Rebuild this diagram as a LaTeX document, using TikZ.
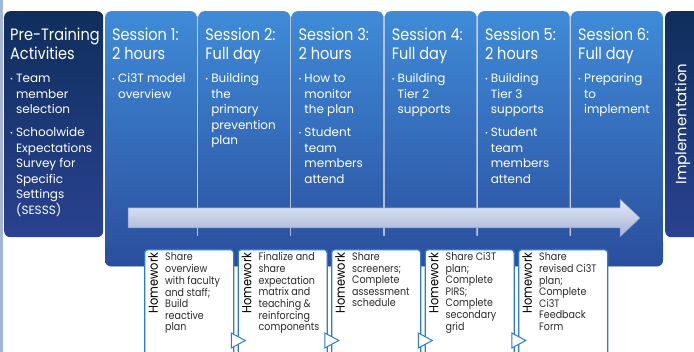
\documentclass[tikz,border=0pt]{standalone}
\usepackage{fontspec}
\setmainfont{Poppins}
\newfontfamily\titlefont{Poppins}[FakeStretch=0.88]
\usetikzlibrary{positioning,calc}
\definecolor{sesstop}{HTML}{3F8BD8}
\definecolor{sessbot}{HTML}{2A4E9D}
\definecolor{pretop}{HTML}{0F2E5C}
\definecolor{prebot}{HTML}{2A4290}
\definecolor{leftstrip}{HTML}{A3B5DC}
\definecolor{gapgray}{HTML}{C5CCDB}
\definecolor{hwblue}{HTML}{2B7AD3}
\definecolor{arrowtop}{HTML}{E6EAF6}
\definecolor{arrowbot}{HTML}{A4B0D6}
\definecolor{arrowline}{HTML}{8593C2}
\definecolor{hwink}{HTML}{2B2B2B}
\newcommand\txtstack[1]{\begin{tabular}[t]{@{}l@{}}#1\end{tabular}}
\newcommand\bulstack[1]{\begin{tabular}[t]{@{}l@{\hspace{3pt}}l@{}}#1\end{tabular}}
\newcommand\bdot{\raisebox{1.3pt}{\fontsize{7}{7}\selectfont\textbullet}}
\begin{document}
\begin{tikzpicture}[x=1pt,y=-1pt]
\tikzset{sesscol/.style={anchor=north west, inner sep=0, minimum width=91.6pt,
minimum height=255pt, rounded corners=6pt, top color=sesstop, bottom color=sessbot},
darkbox/.style={anchor=north west, inner sep=0, minimum height=226pt,
rounded corners=6pt, top color=pretop, bottom color=prebot},
coltitle/.style={anchor=base west, inner sep=0, text=white,
font=\titlefont\fontsize{16.5}{19}\selectfont},
colbody/.style={anchor=base west, inner sep=0, text=white,
font=\fontsize{12}{15.5}\selectfont},
hwbox/.style={anchor=north west, inner sep=0, minimum width=89pt,
minimum height=115pt, fill=white, draw=hwblue, line width=1.3pt, rounded corners=3pt},
hwlabel/.style={anchor=east, rotate=90, inner sep=0, text=black,
font=\titlefont\fontsize{13}{13}\selectfont},
hwtext/.style={anchor=base west, inner sep=0, text=hwink,
font=\titlefont\fontsize{10.8}{11.5}\selectfont},
pointer/.style={fill=white, draw=hwblue, line width=1pt},
}
\useasboundingbox (0,0) rectangle (694,352);
\clip (0,0) rectangle (694,352);
\fill[leftstrip] (0,0) rectangle (3,352);
\node[darkbox, minimum width=99pt] (pre) at (4,11) {};
\node[coltitle] (pretitle) at ($(pre.north west)+(6,30)$) {\txtstack{Pre-Training\\Activities}};
\node[colbody] (prebody) at ($(pre.north west)+(6,72)$) {\bulstack{\bdot & Team\\ & member\\ & selection\\[7.5pt]
\bdot & Schoolwide\\ & Expectations\\ & Survey for\\ & Specific\\ & Settings\\ & (SESSS)}};
\fill[gapgray] (106,16) rectangle (661,250);
\foreach \i/\ttl/\txt in {
1/{Session 1:\\2 hours}/{\bdot & Ci3T model\\ & overview},
2/{Session 2:\\Full day}/{\bdot & Building\\ & the\\ & primary\\ & prevention\\ & plan},
3/{Session 3:\\2 hours}/{\bdot & How to\\ & monitor\\ & the plan\\[7.5pt] \bdot & Student\\ & team\\ & members\\ & attend},
4/{Session 4:\\Full day}/{\bdot & Building\\ & Tier 2\\ & supports},
5/{Session 5:\\2 hours}/{\bdot & Building\\ & Tier 3\\ & supports\\[7.5pt] \bdot & Student\\ & team\\ & members\\ & attend},
6/{Session 6:\\Full day}/{\bdot & Preparing\\ & to\\ & implement}} {
\node[sesscol] (s\i) at ({105+93.2*(\i-1)},11) {};
\node[coltitle] (t\i) at ($(s\i.north west)+(7,30)$) {\txtstack{\ttl}};
\node[colbody] (b\i) at ($(s\i.north west)+(7,72)$) {\bulstack{\txt}};
}
\shade[top color=sessbot!88!sesstop, bottom color=sessbot, rounded corners=6pt]
(s1.south west |- 0,236) rectangle (s6.south east);
\shade[top color=arrowtop, bottom color=arrowbot, draw=arrowline, line width=0.5pt]
(128,208) -- (620,208) -- (620,199) -- (640,218) -- (620,237) -- (620,228) -- (128,228) -- cycle;
\foreach \i/\txt in {
1/{Share\\overview\\with faculty\\and staff;\\Build\\reactive\\plan},
2/{Finalize and\\share\\expectation\\matrix and\\teaching \&\\reinforcing\\components},
3/{Share\\screeners;\\Complete\\assessment\\schedule},
4/{Share Ci3T\\plan;\\Complete\\PIRS;\\Complete\\secondary\\grid},
5/{Share\\revised Ci3T\\plan;\\Complete\\Ci3T\\Feedback\\Form}} {
\node[hwbox] (h\i) at ({144+93.5*(\i-1)},249) {};
\node[hwlabel] (l\i) at ($(h\i.north west)+(9,3.5)$) {Homework};
\node[hwtext] (w\i) at ($(h\i.north west)+(21,12)$) {\txtstack{\txt}};
}
\foreach \i in {1,...,4}
\draw[pointer] ($(h\i.north east)+(-3,84)$) -- ++(14,7.5) -- ++(-14,7.5) -- cycle;
\node[darkbox, minimum width=40pt] (impl) at (665,11) {};
\node[rotate=90, inner sep=0, text=white, font=\fontsize{15}{15}\selectfont] (impltext)
at (682.5,124) {Implementation};
\end{tikzpicture}
\end{document}
